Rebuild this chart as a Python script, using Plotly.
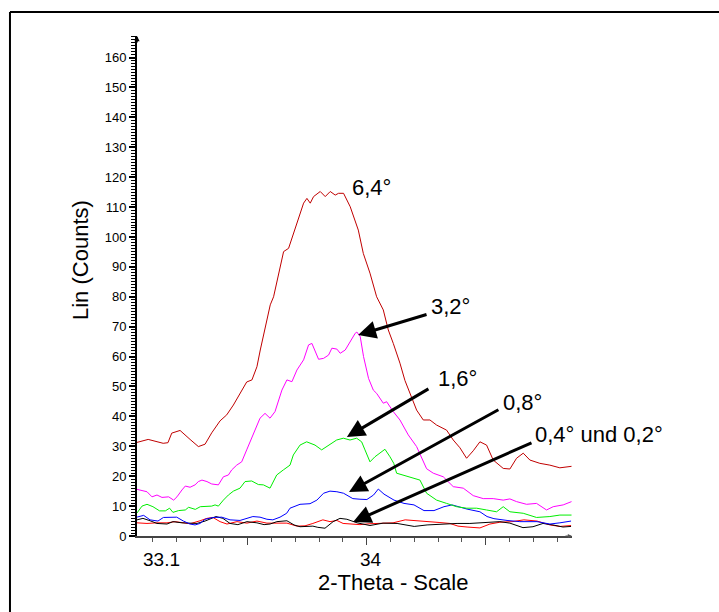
import plotly.graph_objects as go

# ---------------- data ----------------
x_64 = [33.035, 33.082, 33.145, 33.165, 33.181, 33.216, 33.258, 33.293, 33.321, 33.349,
        33.384, 33.412, 33.440, 33.468, 33.496, 33.518, 33.539, 33.553, 33.574, 33.595,
        33.609, 33.630, 33.651, 33.672, 33.693, 33.721, 33.735, 33.749, 33.763, 33.777,
        33.805, 33.826, 33.847, 33.868, 33.882, 33.903, 33.931, 33.965, 33.986, 34.014,
        34.042, 34.070, 34.091, 34.112, 34.140, 34.161, 34.182, 34.210, 34.238, 34.266,
        34.294, 34.336, 34.364, 34.392, 34.420, 34.448, 34.476, 34.504, 34.532, 34.574,
        34.602, 34.630, 34.658, 34.686, 34.728, 34.770, 34.812, 34.861]
y_64 = [31.3, 32.3, 31.0, 31.2, 34.4, 35.3, 32.3, 29.9, 30.7, 34.5,
        38.5, 40.5, 43.8, 47.7, 51.5, 52.2, 56.6, 62.2, 70.0, 77.3,
        80.0, 87.9, 95.1, 96.2, 101.2, 108.5, 111.3, 112.9, 111.3, 113.5,
        115.2, 113.5, 115.2, 114.0, 114.6, 114.6, 110.1, 102.3, 94.5, 87.9,
        80.0, 75.6, 68.9, 64.4, 57.8, 52.0, 47.7, 42.1, 38.8, 38.8,
        37.1, 35.4, 32.1, 29.5, 26.0, 28.5, 31.5, 30.4, 25.4, 22.6,
        22.4, 26.0, 27.7, 25.4, 24.3, 23.7, 22.8, 23.3]

x_32 = [33.035, 33.077, 33.098, 33.119, 33.140, 33.168, 33.189, 33.203, 33.224, 33.238,
        33.258, 33.279, 33.293, 33.308, 33.329, 33.349, 33.377, 33.398, 33.419, 33.433,
        33.454, 33.475, 33.496, 33.510, 33.531, 33.552, 33.573, 33.594, 33.615, 33.629,
        33.644, 33.665, 33.686, 33.707, 33.735, 33.756, 33.770, 33.798, 33.819, 33.840,
        33.854, 33.875, 33.889, 33.910, 33.931, 33.952, 33.959, 33.973, 33.987, 34.008,
        34.028, 34.042, 34.070, 34.084, 34.112, 34.140, 34.175, 34.210, 34.252, 34.280,
        34.322, 34.364, 34.406, 34.448, 34.490, 34.532, 34.574, 34.602, 34.630, 34.672,
        34.714, 34.756, 34.784, 34.826, 34.861]
y_32 = [15.6, 14.8, 13.1, 13.7, 12.9, 13.1, 12.0, 13.1, 15.4, 16.7,
        16.3, 17.1, 18.2, 18.7, 18.2, 17.4, 17.1, 19.8, 20.4, 22.1,
        23.7, 24.8, 28.8, 31.5, 34.9, 39.4, 41.0, 39.4, 41.6, 44.9,
        48.8, 52.2, 51.6, 55.5, 58.9, 63.9, 64.4, 59.1, 59.4, 60.5,
        62.8, 62.5, 61.1, 62.2, 65.0, 67.8, 68.2, 66.7, 60.0, 52.7,
        48.8, 47.7, 44.4, 44.9, 41.6, 38.8, 33.8, 29.9, 22.5, 21.0,
        19.8, 16.5, 16.0, 13.5, 12.5, 12.5, 12.0, 12.4, 11.5, 10.6,
        10.9, 8.7, 9.8, 10.4, 11.5]

x_16 = [33.035, 33.056, 33.077, 33.102, 33.130, 33.154, 33.172, 33.186, 33.210, 33.238,
        33.252, 33.280, 33.301, 33.329, 33.349, 33.363, 33.377, 33.398, 33.419, 33.440,
        33.468, 33.489, 33.517, 33.545, 33.566, 33.594, 33.622, 33.650, 33.678, 33.692,
        33.720, 33.748, 33.783, 33.811, 33.839, 33.874, 33.902, 33.930, 33.958, 33.979,
        33.993, 34.014, 34.035, 34.056, 34.077, 34.098, 34.114, 34.126, 34.154, 34.182,
        34.224, 34.252, 34.294, 34.336, 34.378, 34.420, 34.462, 34.504, 34.546, 34.574,
        34.602, 34.658, 34.714, 34.770, 34.812, 34.861]
y_16 = [7.7, 10.0, 10.6, 9.8, 8.4, 8.4, 9.3, 7.9, 8.5, 8.7,
        9.6, 8.9, 9.8, 9.8, 10.0, 10.4, 10.0, 12.0, 13.7, 15.0,
        16.0, 18.2, 18.4, 17.2, 17.1, 16.0, 20.4, 22.1, 23.7, 27.1,
        30.4, 31.5, 30.4, 28.8, 30.4, 32.1, 32.7, 32.1, 32.7, 31.5,
        28.8, 24.8, 26.5, 27.7, 29.0, 26.5, 24.3, 21.0, 20.4, 19.8,
        18.7, 14.3, 12.0, 10.9, 9.8, 9.3, 9.3, 8.7, 8.1, 9.8,
        8.1, 7.6, 6.2, 6.5, 7.0, 7.0]

x_08 = [33.034, 33.063, 33.090, 33.123, 33.146, 33.174, 33.202, 33.230, 33.258, 33.279,
        33.300, 33.321, 33.355, 33.391, 33.426, 33.468, 33.497, 33.522, 33.552, 33.581,
        33.606, 33.636, 33.664, 33.678, 33.720, 33.762, 33.791, 33.819, 33.846, 33.875,
        33.903, 33.942, 33.972, 34.001, 34.029, 34.049, 34.073, 34.115, 34.157, 34.199,
        34.241, 34.283, 34.325, 34.359, 34.422, 34.476, 34.506, 34.535, 34.590, 34.644,
        34.716, 34.770, 34.812, 34.859]
y_08 = [6.3, 6.9, 5.4, 5.0, 6.2, 6.3, 6.3, 5.0, 4.0, 3.7,
        4.2, 5.6, 6.2, 6.3, 5.4, 5.2, 5.9, 6.5, 6.3, 5.6,
        5.4, 6.3, 7.6, 9.3, 10.6, 10.8, 12.0, 14.3, 15.0, 14.8,
        14.3, 12.5, 12.3, 12.2, 13.7, 15.7, 14.0, 12.0, 10.9, 10.4,
        8.5, 8.5, 9.8, 10.4, 9.0, 8.1, 6.5, 5.8, 5.2, 4.8,
        4.8, 4.0, 4.4, 5.0]

x_04 = [33.035, 33.060, 33.090, 33.119, 33.161, 33.186, 33.224, 33.258, 33.287, 33.321,
        33.342, 33.367, 33.396, 33.426, 33.459, 33.497, 33.539, 33.569, 33.594, 33.623,
        33.665, 33.695, 33.720, 33.749, 33.774, 33.795, 33.825, 33.859, 33.888, 33.917,
        33.960, 34.014, 34.069, 34.128, 34.200, 34.254, 34.325, 34.380, 34.434, 34.506,
        34.560, 34.602, 34.657, 34.699, 34.741, 34.783, 34.825, 34.859]
y_04 = [5.4, 5.9, 5.1, 4.2, 4.0, 4.8, 4.4, 4.2, 4.2, 5.0,
        5.8, 6.5, 5.9, 4.2, 3.8, 4.8, 4.4, 3.8, 4.0, 4.8,
        5.1, 3.7, 3.1, 3.3, 3.3, 2.9, 2.6, 4.8, 5.9, 5.6,
        4.4, 3.5, 4.3, 4.2, 3.2, 3.7, 4.1, 4.2, 4.2, 4.4,
        4.8, 4.3, 2.8, 3.1, 4.2, 3.7, 3.0, 3.2]

x_02 = [33.035, 33.077, 33.119, 33.161, 33.195, 33.228, 33.258, 33.300, 33.329, 33.354,
        33.384, 33.413, 33.455, 33.497, 33.539, 33.581, 33.623, 33.665, 33.707, 33.741,
        33.774, 33.816, 33.846, 33.875, 33.901, 33.939, 33.972, 34.014, 34.043, 34.111,
        34.162, 34.204, 34.254, 34.308, 34.350, 34.384, 34.422, 34.476, 34.518, 34.560,
        34.611, 34.661, 34.716, 34.770, 34.812, 34.859]
y_02 = [4.4, 4.2, 4.4, 4.4, 4.8, 4.4, 4.1, 5.1, 5.9, 6.2,
        4.8, 4.0, 4.8, 4.3, 5.0, 4.3, 4.4, 4.3, 3.3, 3.4,
        4.2, 5.4, 4.8, 5.2, 4.2, 4.1, 3.8, 4.1, 4.2, 4.4,
        5.4, 5.2, 5.0, 4.5, 4.2, 3.3, 3.0, 2.7, 4.0, 4.6,
        4.8, 5.4, 5.0, 3.7, 3.2, 3.5]

series = [
    ("0,2°", x_02, y_02, "#FF0000"),
    ("0,4°", x_04, y_04, "#000000"),
    ("0,8°", x_08, y_08, "#0000FF"),
    ("1,6°", x_16, y_16, "#00EE00"),
    ("3,2°", x_32, y_32, "#FF00FF"),
    ("6,4°", x_64, y_64, "#C00000"),
]

# label text, label position (x, y), arrow tail (x, y), arrow tip (x, y)
labels = [
    ("6,4°", 34.022, 116.7, None, None),
    ("3,2°", 34.354, 76.9, (34.258, 74.2), (33.964, 67.2)),
    ("1,6°", 34.382, 52.8, (34.266, 49.5), (33.917, 33.1)),
    ("0,8°", 34.655, 44.8, (34.560, 42.5), (33.926, 14.7)),
]
label_last = ("0,4° und 0,2°", 34.697, 33.8, (34.699, 31.4), (33.943, 4.7))

x_range = [33.035, 34.863]
y_range = [0, 167.2]
x_major = [33.5, 34.0, 34.5]
x_ticklabels = [("33.1", 33.139), ("34", 34.018)]

FONT = "Liberation Sans, Arial, sans-serif"

fig = go.Figure()
for name, xs, ys, col in series:
    fig.add_trace(go.Scatter(x=xs, y=ys, mode="lines", name=name,
                             line=dict(color=col, width=1), showlegend=False))

ann = []
for text, tx, ty, tail, tip in labels + [label_last]:
    ann.append(dict(x=tx, y=ty, xref="x", yref="y", text=text, showarrow=False,
                    xanchor="left" if text.startswith("0,4") else "center",
                    yanchor="middle", font=dict(family=FONT, size=22, color="#000")))
    if tip is not None:
        ann.append(dict(x=tip[0], y=tip[1], ax=tail[0], ay=tail[1],
                        xref="x", yref="y", axref="x", ayref="y", text="",
                        showarrow=True, arrowhead=2, arrowsize=1.2, arrowwidth=3,
                        arrowcolor="#000", standoff=0))

for t, xv in x_ticklabels:
    ann.append(dict(x=xv, y=-0.046, xref="x", yref="paper", text=t, showarrow=False,
                    xanchor="center", yanchor="middle",
                    font=dict(family=FONT, size=19, color="#000")))

ann.append(dict(x=0.5885, y=-0.092, xref="paper", yref="paper", text="2-Theta - Scale",
                showarrow=False, xanchor="center", yanchor="middle",
                font=dict(family=FONT, size=22, color="#000")))
ann.append(dict(x=-0.131, y=0.552, xref="paper", yref="paper", text="Lin (Counts)",
                showarrow=False, textangle=-90, xanchor="center", yanchor="middle",
                font=dict(family=FONT, size=22, color="#000")))
# small axis arrowheads
ann.append(dict(x=x_range[0], y=y_range[1], xref="x", yref="y", ax=0, ay=8, text="",
                showarrow=True, arrowhead=2, arrowsize=0.7, arrowwidth=1.5,
                arrowcolor="#000", standoff=0))
ann.append(dict(x=x_range[1], y=0, xref="x", yref="y", ax=-8, ay=0, text="",
                showarrow=True, arrowhead=2, arrowsize=0.7, arrowwidth=1.2,
                arrowcolor="#555", standoff=0))

shapes = [
    dict(type="line", xref="paper", yref="paper", x0=-0.292, x1=-0.292, y0=1.048, y1=-0.2,
         line=dict(color="#000", width=2)),
    dict(type="line", xref="paper", yref="paper", x0=-0.292, x1=1.4, y0=1.048, y1=1.048,
         line=dict(color="#000", width=2)),
]

fig.update_layout(
    width=719, height=612,
    margin=dict(l=137, r=147, t=36, b=76),
    paper_bgcolor="white", plot_bgcolor="white",
    annotations=ann, shapes=shapes,
    xaxis=dict(range=x_range, showgrid=False, zeroline=False, showline=True,
               linecolor="#444", linewidth=1.5, ticks="outside", tickvals=x_major,
               ticklen=7, tickcolor="#444", tickwidth=1.2, showticklabels=False,
               minor=dict(tick0=33.0, dtick=0.1, ticks="outside", ticklen=4,
                          tickcolor="#555", tickwidth=1)),
    yaxis=dict(range=y_range, showgrid=False, zeroline=False, showline=True,
               linecolor="#000", linewidth=2, ticks="outside", tick0=0, dtick=10,
               ticklen=6, tickcolor="#000", tickwidth=1.5,
               tickfont=dict(family=FONT, size=13, color="#000"),
               minor=dict(dtick=1, ticks="outside", ticklen=4, tickcolor="#000",
                          tickwidth=1)),
)

fig.write_html("out.html")
